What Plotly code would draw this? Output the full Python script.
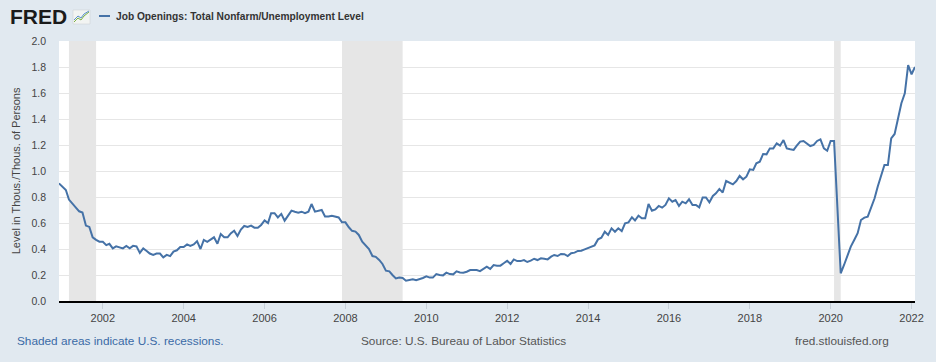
import pandas as pd
import plotly.graph_objects as go

# ---- data (monthly, Dec 2000 .. Feb 2022) ----
start_month = "2000-12-01"
v2000 = [0.905]
v2001 = [0.88, 0.854, 0.78, 0.75, 0.72, 0.69, 0.68, 0.58, 0.57, 0.49, 0.47, 0.456]
v2002 = [0.456, 0.43, 0.44, 0.405, 0.42, 0.415, 0.405, 0.424, 0.405, 0.424, 0.42, 0.37]
v2003 = [0.405, 0.385, 0.365, 0.355, 0.365, 0.365, 0.336, 0.355, 0.345, 0.38, 0.39, 0.415]
v2004 = [0.415, 0.435, 0.424, 0.435, 0.46, 0.40, 0.47, 0.455, 0.47, 0.49, 0.44, 0.515]
v2005 = [0.49, 0.49, 0.52, 0.54, 0.50, 0.55, 0.577, 0.57, 0.58, 0.564, 0.564, 0.585]
v2006 = [0.62, 0.60, 0.675, 0.675, 0.643, 0.67, 0.618, 0.66, 0.695, 0.687, 0.68, 0.687]
v2007 = [0.675, 0.687, 0.746, 0.687, 0.695, 0.70, 0.65, 0.65, 0.656, 0.65, 0.643, 0.605]
v2008 = [0.605, 0.567, 0.54, 0.534, 0.508, 0.456, 0.43, 0.40, 0.346, 0.34, 0.316, 0.285]
v2009 = [0.233, 0.228, 0.20, 0.174, 0.18, 0.177, 0.156, 0.16, 0.167, 0.16, 0.167, 0.177]
v2010 = [0.19, 0.18, 0.18, 0.207, 0.20, 0.197, 0.218, 0.207, 0.205, 0.228, 0.22, 0.218]
v2011 = [0.225, 0.238, 0.238, 0.238, 0.23, 0.248, 0.264, 0.247, 0.277, 0.272, 0.272, 0.29]
v2012 = [0.31, 0.285, 0.32, 0.307, 0.307, 0.315, 0.30, 0.31, 0.325, 0.315, 0.328, 0.325]
v2013 = [0.32, 0.341, 0.354, 0.346, 0.362, 0.36, 0.346, 0.367, 0.372, 0.385, 0.387, 0.397]
v2014 = [0.408, 0.423, 0.428, 0.474, 0.487, 0.533, 0.508, 0.559, 0.533, 0.559, 0.538, 0.597]
v2015 = [0.605, 0.644, 0.619, 0.657, 0.636, 0.636, 0.746, 0.695, 0.705, 0.731, 0.718, 0.739]
v2016 = [0.79, 0.764, 0.777, 0.731, 0.764, 0.751, 0.782, 0.739, 0.739, 0.72, 0.797, 0.797]
v2017 = [0.759, 0.808, 0.828, 0.862, 0.834, 0.923, 0.91, 0.897, 0.923, 0.962, 0.936, 0.956]
v2018 = [1.013, 1.008, 1.059, 1.072, 1.131, 1.128, 1.174, 1.174, 1.213, 1.195, 1.238, 1.174]
v2019 = [1.167, 1.162, 1.195, 1.226, 1.231, 1.213, 1.192, 1.2, 1.231, 1.244, 1.174, 1.156]
v2020 = [1.231, 1.231, 0.764, 0.213, 0.277, 0.354, 0.418, 0.469, 0.521, 0.623, 0.641, 0.649]
v2021 = [0.713, 0.79, 0.879, 0.956, 1.046, 1.046, 1.251, 1.285, 1.405, 1.521, 1.597, 1.815]
v2022 = [1.744, 1.80]

values = (v2000 + v2001 + v2002 + v2003 + v2004 + v2005 + v2006 + v2007 + v2008 + v2009
          + v2010 + v2011 + v2012 + v2013 + v2014 + v2015 + v2016 + v2017 + v2018
          + v2019 + v2020 + v2021 + v2022)
dates = pd.date_range(start_month, periods=len(values), freq="MS")

recession_starts = ["2001-03-01", "2007-12-01", "2020-02-01"]
recession_ends = ["2001-11-01", "2009-06-01", "2020-04-01"]

series_name = "Job Openings: Total Nonfarm/Unemployment Level"
y_title = "Level in Thous./Thous. of Persons"
y_ticks = [0.0, 0.2, 0.4, 0.6, 0.8, 1.0, 1.2, 1.4, 1.6, 1.8, 2.0]

# ---- figure ----
FONT = "Liberation Sans, Arial, sans-serif"
BLUE = "#4572a7"
BG = "#e1e9f0"

fig = go.Figure()
fig.add_trace(go.Scatter(x=dates, y=values, mode="lines", name=series_name,
                         line=dict(color=BLUE, width=2), showlegend=False))

for s, e in zip(recession_starts, recession_ends):
    fig.add_vrect(x0=s, x1=e, fillcolor="#e6e6e6", opacity=1, line_width=0, layer="below")

shapes = []
# legend line sample
shapes.append(dict(type="line", xref="paper", yref="paper", xsizemode="pixel", ysizemode="pixel",
                   xanchor=0, yanchor=1, x0=40, x1=51, y0=25, y1=25,
                   line=dict(color=BLUE, width=2)))
# small FRED icon
shapes.append(dict(type="rect", xref="paper", yref="paper", xsizemode="pixel", ysizemode="pixel",
                   xanchor=0, yanchor=1, x0=14, x1=31, y0=17, y1=31,
                   fillcolor="#f2f4f2", line=dict(color="#c8ccd0", width=0.5)))
shapes.append(dict(type="path", xref="paper", yref="paper", xsizemode="pixel", ysizemode="pixel",
                   xanchor=0, yanchor=1, path="M 15 19 L 19 23 L 22 21 L 25 25 L 30 29",
                   line=dict(color="#7cb342", width=1)))
shapes.append(dict(type="path", xref="paper", yref="paper", xsizemode="pixel", ysizemode="pixel",
                   xanchor=0, yanchor=1, path="M 15 21 L 19 25 L 22 23 L 25 27 L 30 30",
                   line=dict(color="#5b8fc9", width=1)))
for sh in shapes:
    fig.add_shape(**sh)

ann = []
ann.append(dict(text="<b>FRED</b>", x=-0.060, y=1.096, xref="paper", yref="paper",
                xanchor="left", yanchor="middle", showarrow=False,
                font=dict(family=FONT, size=21, color="#1a1a1a")))
ann.append(dict(text="<b>" + series_name + "</b>", x=(114 - 59) / 861, y=1.096,
                xref="paper", yref="paper", xanchor="left", yanchor="middle", showarrow=False,
                font=dict(family=FONT, size=10.2, color="#333333")))
ann.append(dict(text=y_title, x=(16 - 59) / 861, y=0.5, xref="paper", yref="paper",
                xanchor="center", yanchor="middle", textangle=-90, showarrow=False,
                font=dict(family=FONT, size=11, color="#444444")))
ann.append(dict(text="Shaded areas indicate U.S. recessions.", x=(15 - 59) / 861, y=-0.154,
                xref="paper", yref="paper", xanchor="left", yanchor="middle", showarrow=False,
                font=dict(family=FONT, size=11.8, color="#3a6aa6")))
ann.append(dict(text="Source: U.S. Bureau of Labor Statistics", x=(466 - 59) / 861, y=-0.154,
                xref="paper", yref="paper", xanchor="center", yanchor="middle", showarrow=False,
                font=dict(family=FONT, size=11.8, color="#555555")))
ann.append(dict(text="fred.stlouisfed.org", x=(896 - 59) / 861, y=-0.154,
                xref="paper", yref="paper", xanchor="right", yanchor="middle", showarrow=False,
                font=dict(family=FONT, size=11.8, color="#555555")))

fig.update_layout(
    width=936, height=362,
    margin=dict(l=59, r=16, t=41, b=61),
    paper_bgcolor=BG, plot_bgcolor="white",
    font=dict(family=FONT, size=11, color="#444444"),
    annotations=ann,
    xaxis=dict(type="date", range=[dates[0], dates[-1]], tick0="2002-01-01", dtick="M24",
               tickformat="%Y", showgrid=False, showline=True, linecolor="#000000", linewidth=2,
               ticks="outside", ticklen=6, tickcolor="#c6cfd8", zeroline=False,
               tickfont=dict(family=FONT, size=11, color="#444444")),
    yaxis=dict(range=[0, 2.0], tickvals=y_ticks, tickformat=".1f", showgrid=True,
               gridcolor="#e6e6e6", gridwidth=1, zeroline=False, showline=False,
               ticks="", ticklabelstandoff=12,
               tickfont=dict(family=FONT, size=10.5, color="#444444")),
)

fig.write_html(
    "out.html",
    config={"displayModeBar": False},
    post_script="document.body.style.margin='0px';document.body.style.padding='0px';"
                "document.body.style.background='#e1e9f0';document.body.style.overflow='hidden';",
)
